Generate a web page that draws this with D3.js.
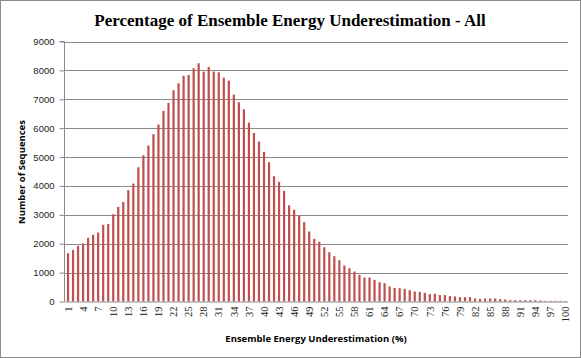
<!DOCTYPE html>
<html><head><meta charset="utf-8">
<script src="https://cdn.jsdelivr.net/npm/d3@7"></script>
<style>body{margin:0;background:#fff}svg{display:block}</style>
</head><body>
<script>
const categories = d3.range(1, 101);
const counts = [
1672,1788,1926,2007,2203,2307,2388,2653,2687,3022,
3276,3449,3852,4083,4648,5063,5398,5790,6125,6597,
6874,7313,7555,7815,7843,8074,8247,7958,8120,7958,
7935,7751,7647,7163,6897,6655,6194,5836,5536,5179,
4821,4337,4141,3829,3333,3172,2987,2745,2422,2168,
2065,1880,1707,1569,1430,1246,1153,1038,923,830,
830,750,669,634,519,473,461,438,392,346,
334,305,256,267,221,221,186,174,151,151,
151,105,93,105,105,105,81,70,47,47,
47,47,47,47,35,23,23,23,23,12];
const yTicks = [0,1000,2000,3000,4000,5000,6000,7000,8000,9000];
const title = "Percentage of Ensemble Energy Underestimation - All";
const xTitle = "Ensemble Energy Underestimation (%)";
const yTitle = "Number of Sequences";

const W = 581, H = 358;
const m = {left: 64.5, right: 13, top: 41.5, bottom: 56.5};
const svg = d3.select("body").append("svg").attr("width", W).attr("height", H);
svg.append("rect").attr("x",0.5).attr("y",0.5).attr("width",W-1).attr("height",H-1)
  .attr("fill","#fff").attr("stroke","#8c8c8c");

const x = d3.scaleBand().domain(categories).range([m.left+1, W - m.right]).paddingInner(0.56).paddingOuter(0.28);
const y = d3.scaleLinear().domain([0, 9000]).range([H - m.bottom, m.top]);

// gridlines
svg.append("g").selectAll("line").data(yTicks.slice(1)).join("line")
  .attr("x1", m.left).attr("x2", W - m.right)
  .attr("y1", d => Math.round(y(d))+0.5).attr("y2", d => Math.round(y(d))+0.5)
  .attr("stroke", "#8a8a8a").attr("stroke-width", 1);

// bars
svg.append("g").selectAll("rect").data(categories).join("rect")
  .attr("x", (d) => x(d)).attr("width", x.bandwidth())
  .attr("y", (d,i) => y(counts[i])).attr("height", (d,i) => y(0) - y(counts[i]))
  .attr("fill", "#C0504D");

// y axis
const yAxis = d3.axisLeft(y).tickValues(yTicks).tickSize(5).tickPadding(5).tickFormat(d3.format("d"));
const gy = svg.append("g").attr("transform", `translate(${m.left},0)`).call(yAxis);
gy.selectAll("line").attr("stroke","#8a8a8a");
gy.select(".domain").attr("stroke","#8a8a8a").attr("d", `M-5,${y(9000)}H0V${y(0)}`);
gy.selectAll("text").attr("font-family","'Liberation Sans', Arial, sans-serif").attr("font-size","9.5px").attr("fill","#222");

// x axis
const xAxis = d3.axisBottom(x).tickValues(categories.filter(d => (d-1)%3===0 || d===100)).tickSize(0).tickPadding(5);
const gx = svg.append("g").attr("transform", `translate(0,${y(0)})`).call(xAxis);
gx.select(".domain").attr("stroke","#8a8a8a").attr("d", `M${m.left},0.5H${W-m.right}`);
gx.selectAll("text")
  .attr("font-family","'Liberation Serif', 'DejaVu Serif', serif").attr("font-size","10.5px").attr("fill","#222")
  .attr("transform","rotate(-90)").attr("text-anchor","end").attr("x",-5).attr("y",0).attr("dy","0.35em");

// titles
svg.append("text").attr("x", 290).attr("y", 26).attr("text-anchor","middle")
  .attr("font-family","'Liberation Serif', 'DejaVu Serif', serif").attr("font-weight","bold").attr("font-size","17px")
  .text(title);
svg.append("text").attr("x", 316).attr("y", 342).attr("text-anchor","middle")
  .attr("font-family","'Open Sans', 'Liberation Sans', sans-serif").attr("font-weight","bold").attr("font-size","9.5px")
  .text(xTitle);
svg.append("text").attr("transform", `translate(25,172) rotate(-90)`).attr("text-anchor","middle")
  .attr("font-family","'Open Sans', 'Liberation Sans', sans-serif").attr("font-weight","bold").attr("font-size","9.5px")
  .text(yTitle);
</script>
</body></html>
